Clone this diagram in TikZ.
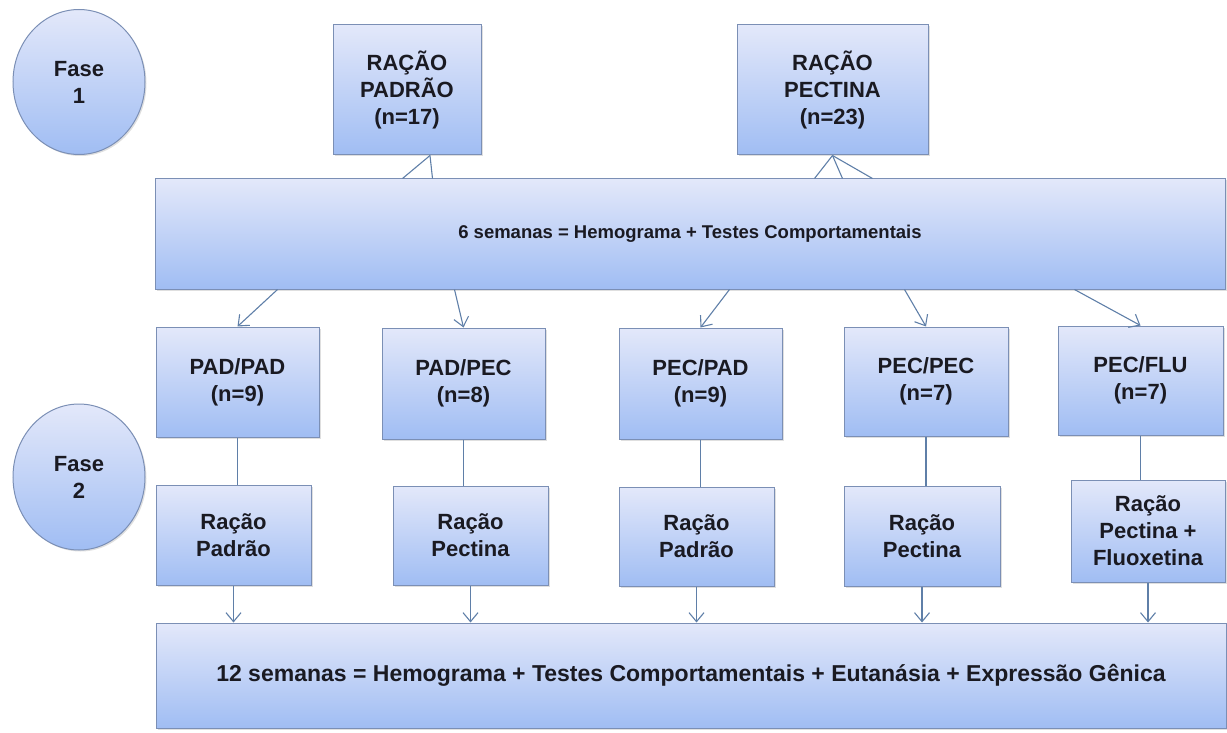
\documentclass[tikz,border=0pt]{standalone}
\usepackage{fontspec}
\setmainfont{Liberation Sans}[BoldFont={Liberation Sans Bold}]
\usepackage{xcolor}
\usetikzlibrary{
	positioning,     % posicionamento dos nos
	arrows.meta,     % pontas de seta
	calc,            % coordenadas calculadas
	shapes.geometric,% elipses das fases
	shadows          % sombra das caixas
}
\definecolor{caixaTopo}{HTML}{E3E8FA}
\definecolor{caixaBase}{HTML}{A0BDF3}
\definecolor{borda}{HTML}{7B8FB5}
\definecolor{linha}{HTML}{5F7FA8}
\definecolor{texto}{HTML}{1A1A22}

\begin{document}
\begin{tikzpicture}[
		x=1pt, y=-1pt,
		box/.style={draw=borda, line width=1pt, top color=caixaTopo, bottom color=caixaBase,
			text=texto, align=center, inner sep=0pt,
			font=\bfseries\fontsize{22}{27}\selectfont,
			drop shadow={shadow xshift=1.5pt, shadow yshift=-1.5pt, opacity=0.25}},
		fase/.style={box, ellipse},
		link/.style={draw=linha, line width=1.1pt},
		seta/.style={link, -{Straight Barb[length=9pt, width=15pt]}}
	]
	\useasboundingbox (0,0) rectangle (1227,733);
	
	% --- Fases ---
	\node[fase, minimum width=132pt, minimum height=145pt] (f1) at (79,82) {Fase\\1};
	\node[fase, minimum width=132pt, minimum height=146pt] (f2) at (79,477) {Fase\\2};
	
	% --- Fase 1: racoes iniciais ---
	\node[box, minimum width=148pt, minimum height=130pt] (rpad) at (407,90) {RAÇÃO\\PADRÃO\\(n=17)};
	\node[box, minimum width=191pt, minimum height=130pt] (rpec) at (832.5,90) {RAÇÃO\\PECTINA\\(n=23)};
	
	\node[box, minimum width=1070pt, minimum height=110pt, font=\bfseries\fontsize{18.5}{22}\selectfont] (mid) at (690,234)
	{6 semanas = Hemograma + Testes Comportamentais};
	
	% ligacoes superiores
	\draw[link] ($(rpad.south)+(23,0)$) -- ($(mid.north west)+(248,0)$);
	\draw[link] ($(rpad.south)+(23,0)$) -- ($(mid.north west)+(278,0)$);
	\draw[link] (rpec.south) -- ($(mid.north west)+(660,0)$);
	\draw[link] (rpec.south) -- ($(mid.north west)+(688,0)$);
	\draw[link] (rpec.south) -- ($(mid.north west)+(718,0)$);
	
	% --- Fase 2: grupos ---
	\node[box, minimum width=163pt, minimum height=110pt] (g1) at (237.5,382) {PAD/PAD\\(n=9)};
	\node[box, minimum width=163pt, minimum height=111pt] (g2) at (463.5,383.5) {PAD/PEC\\(n=8)};
	\node[box, minimum width=163pt, minimum height=111pt] (g3) at (700.5,383.5) {PEC/PAD\\(n=9)};
	\node[box, minimum width=164pt, minimum height=109pt] (g4) at (926,381.5) {PEC/PEC\\(n=7)};
	\node[box, minimum width=165pt, minimum height=109pt] (g5) at (1140.5,380.5) {PEC/FLU\\(n=7)};
	
	\draw[seta] ($(mid.south west)+(123,0)$) -- (g1.north);
	\draw[seta] ($(mid.south west)+(300,0)$) -- (g2.north);
	\draw[seta] ($(mid.south west)+(575,0)$) -- (g3.north);
	\draw[seta] ($(mid.south west)+(750,0)$) -- (g4.north);
	\draw[seta] ($(mid.south west)+(920,0)$) -- (g5.north);
	
	% --- Dietas ---
	\node[box, minimum width=155pt, minimum height=100pt] (d1) at (233.5,535) {Ração\\Padrão};
	\node[box, minimum width=155pt, minimum height=99pt] (d2) at (470.5,535.5) {Ração\\Pectina};
	\node[box, minimum width=155pt, minimum height=99pt] (d3) at (696.5,536.5) {Ração\\Padrão};
	\node[box, minimum width=156pt, minimum height=100pt] (d4) at (922,536) {Ração\\Pectina};
	\node[box, minimum width=154pt, minimum height=102pt] (d5) at (1148,531) {Ração\\Pectina +\\Fluoxetina};
	
	\foreach \g/\d in {g1/d1, g2/d2, g3/d3, g4/d4, g5/d5}
	\draw[link] (\g.south) -- (\g.south |- \d.north);
	
	% --- Resultado final ---
	\node[box, minimum width=1070pt, minimum height=105pt, font=\bfseries\fontsize{23}{27}\selectfont] (fim) at (691,675.5)
	{12 semanas = Hemograma + Testes Comportamentais + Eutanásia + Expressão Gênica};
	
	\foreach \d in {d1, d2, d3, d4, d5}
	\draw[seta] (\d.south) -- (\d.south |- fim.north);
\end{tikzpicture}
\end{document}
